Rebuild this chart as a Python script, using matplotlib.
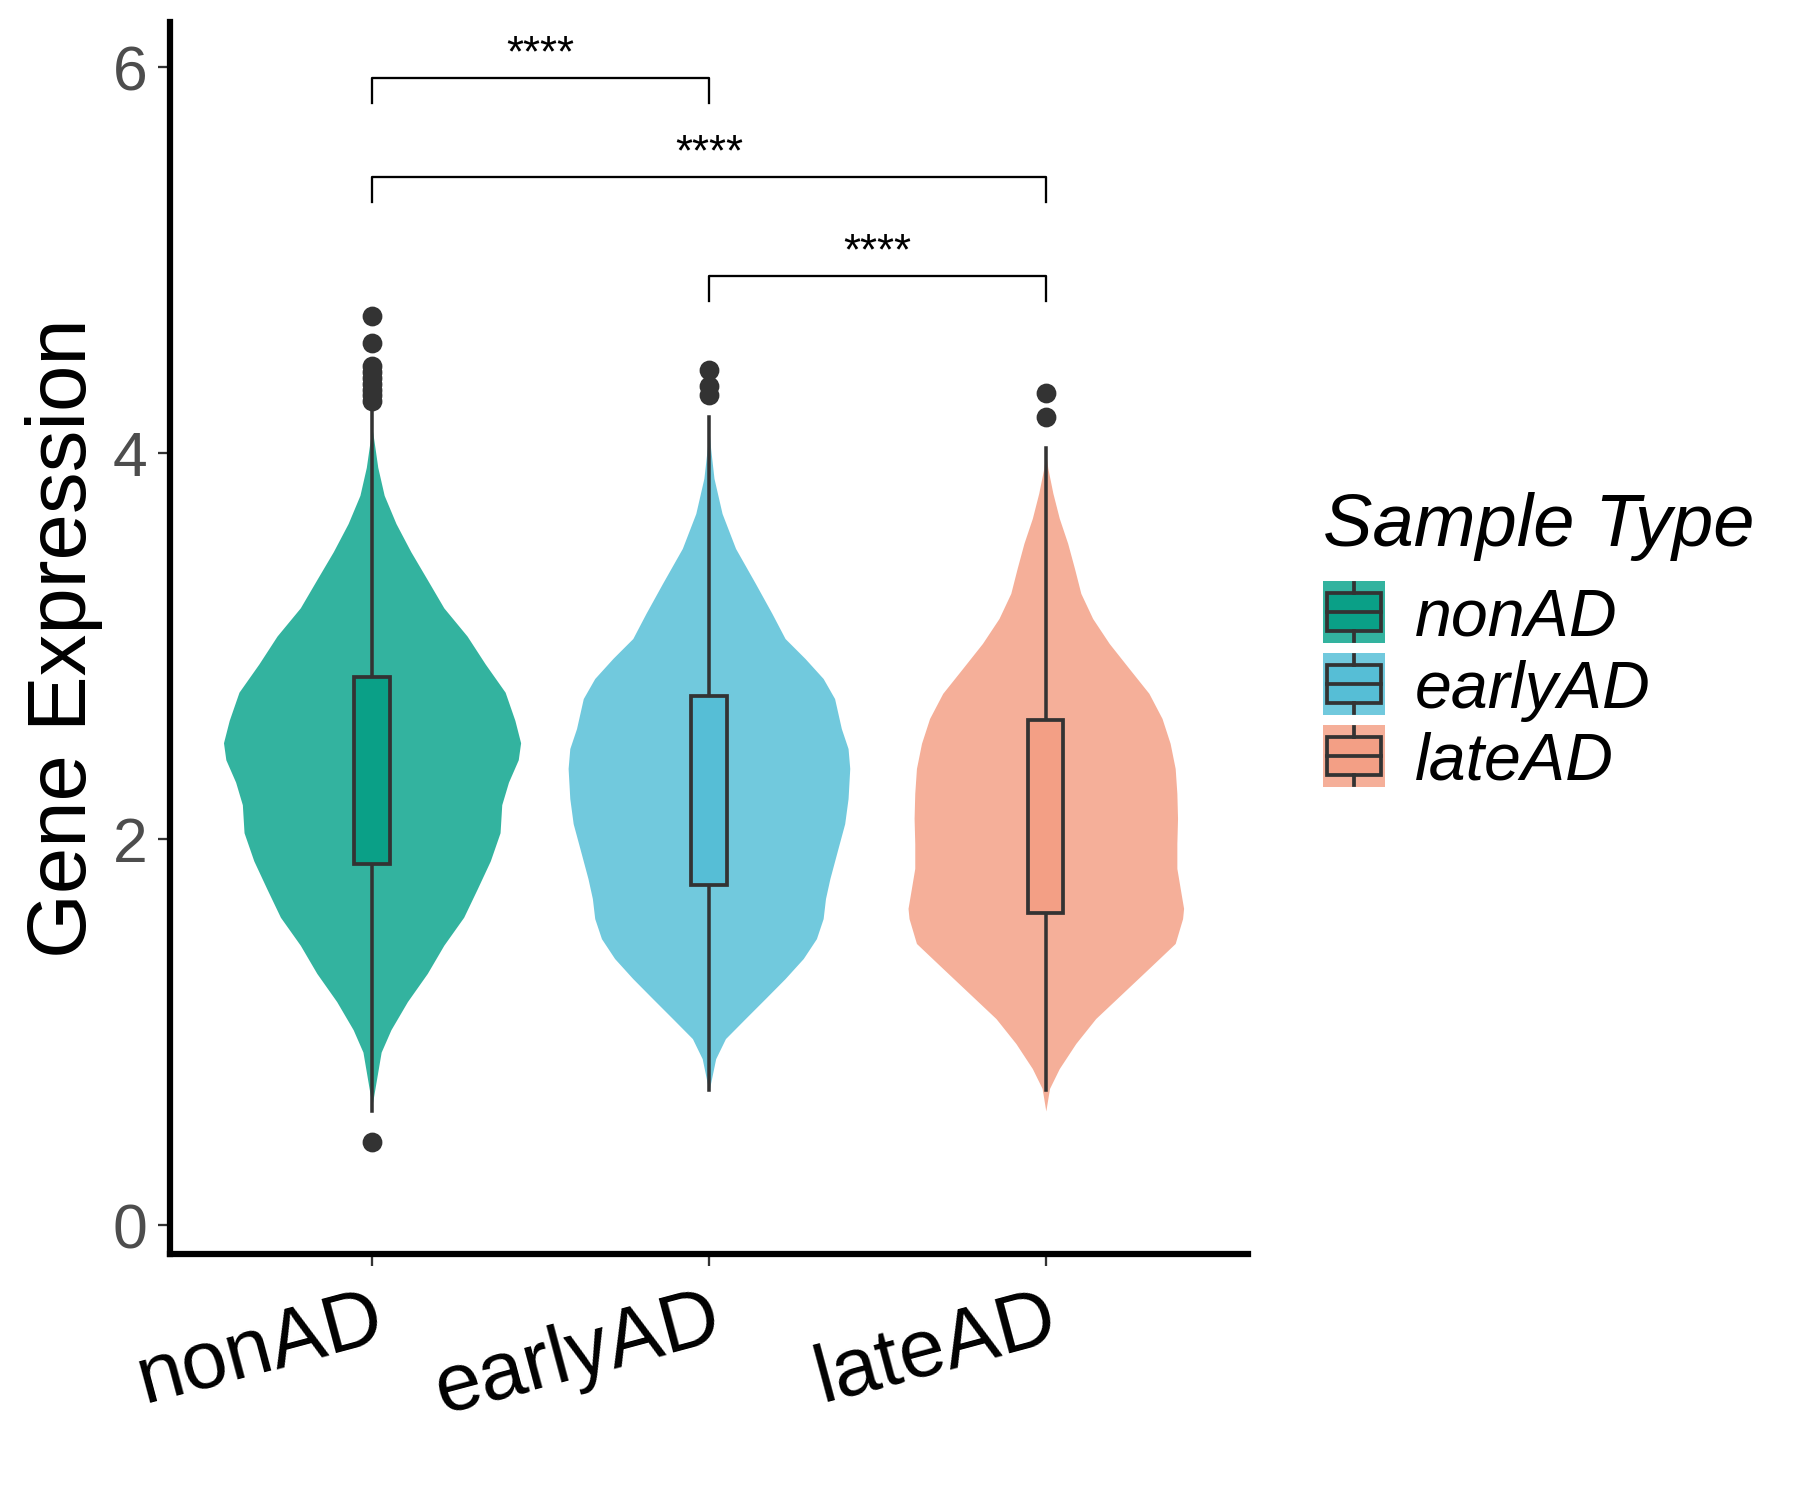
import matplotlib
matplotlib.use("Agg")
import matplotlib.pyplot as plt
from matplotlib.patches import Rectangle
from matplotlib.lines import Line2D

plt.rcParams["font.family"] = ["Liberation Sans", "DejaVu Sans"]

groups = ["nonAD", "earlyAD", "lateAD"]
violin_fill = ["#33B39F", "#71C9DD", "#F5AF99"]
box_fill = ["#0AA087", "#56BED6", "#F39F85"]
dark = "#333333"

# violin outlines: value and half width (in x units)
nonad_y = [0.62, 0.897, 1.013, 1.159, 1.305, 1.451, 1.596, 1.742, 1.888, 2.034,
           2.179, 2.296, 2.412, 2.500, 2.616, 2.762, 2.908, 3.053, 3.199, 3.345,
           3.490, 3.636, 3.782, 3.927, 4.073, 4.131]
nonad_w = [0.0, 0.027, 0.056, 0.105, 0.164, 0.213, 0.272, 0.312, 0.351, 0.380,
           0.385, 0.405, 0.434, 0.441, 0.424, 0.395, 0.336, 0.282, 0.213, 0.164,
           0.115, 0.071, 0.036, 0.017, 0.005, 0.0]
early_y = [0.695, 0.863, 0.967, 1.071, 1.174, 1.278, 1.382, 1.485, 1.589, 1.693,
           1.796, 1.952, 2.081, 2.211, 2.367, 2.470, 2.574, 2.729, 2.833, 2.937,
           3.040, 3.170, 3.325, 3.507, 3.688, 3.870, 4.025, 4.129]
early_w = [0.0, 0.020, 0.049, 0.108, 0.167, 0.226, 0.280, 0.319, 0.339, 0.346,
           0.359, 0.383, 0.403, 0.413, 0.418, 0.413, 0.393, 0.373, 0.339, 0.285,
           0.226, 0.187, 0.138, 0.079, 0.039, 0.015, 0.005, 0.0]
late_y = [0.592, 0.709, 0.812, 0.942, 1.071, 1.201, 1.331, 1.460, 1.589, 1.642,
          1.745, 1.849, 1.978, 2.108, 2.238, 2.367, 2.497, 2.626, 2.756, 2.885,
          3.015, 3.144, 3.274, 3.404, 3.533, 3.663, 3.793, 3.922, 4.0]
late_w = [0.0, 0.011, 0.040, 0.089, 0.148, 0.227, 0.306, 0.384, 0.406, 0.409,
          0.399, 0.389, 0.389, 0.391, 0.389, 0.384, 0.369, 0.345, 0.306, 0.247,
          0.188, 0.139, 0.104, 0.085, 0.065, 0.040, 0.021, 0.006, 0.0]

# box summaries
whis_lo = [0.59, 0.70, 0.70]
q1 = [1.873, 1.762, 1.616]
med = [2.383, 2.268, 2.108]
q3 = [2.84, 2.744, 2.618]
whis_hi = [4.233, 4.186, 4.026]
nonad_out = [0.43, 4.27, 4.30, 4.33, 4.36, 4.39, 4.42, 4.45, 4.57, 4.71]
early_out = [4.30, 4.35, 4.43]
late_out = [4.19, 4.31]

# stat_compare_means brackets
pairs = [(1, 2), (1, 3), (2, 3)]
bracket_y = [5.944, 5.43, 4.92]
p_labels = ["****", "****", "****"]

violins = [(nonad_y, nonad_w), (early_y, early_w), (late_y, late_w)]
outliers = [nonad_out, early_out, late_out]

fig = plt.figure(figsize=(12, 10), dpi=150)
ax = fig.add_axes([0.0944, 0.164, 0.5989, 0.821])

for i, (vy, vw) in enumerate(violins):
    xc = i + 1
    ax.fill_betweenx(vy, [xc - w for w in vw], [xc + w for w in vw],
                     color=violin_fill[i], lw=0, zorder=1)

stats = []
for i in range(3):
    stats.append(dict(whislo=whis_lo[i], q1=q1[i], med=med[i], q3=q3[i],
                      whishi=whis_hi[i], fliers=outliers[i]))
bp = ax.bxp(stats, positions=[1, 2, 3], widths=0.105, patch_artist=True,
            showcaps=False,
            boxprops=dict(edgecolor=dark, linewidth=1.8),
            whiskerprops=dict(color=dark, linewidth=1.7),
            medianprops=dict(color=dark, linewidth=3.4, solid_capstyle="butt"),
            flierprops=dict(marker="o", markerfacecolor=dark,
                            markeredgecolor=dark, markersize=8.5))
for patch, c in zip(bp["boxes"], box_fill):
    patch.set_facecolor(c)
    patch.set_zorder(3)

tip = 0.13
for (a, b), by, lab in zip(pairs, bracket_y, p_labels):
    ax.plot([a, a, b, b], [by - tip, by, by, by - tip], color="black", lw=1.1)
    ax.text((a + b) / 2, by + 0.06, lab, ha="center", va="baseline", fontsize=21)

ax.set_xlim(0.4, 3.6)
ax.set_ylim(-0.149, 6.232)
ax.set_yticks([0, 2, 4, 6])
ax.set_xticks([1, 2, 3])
ax.set_xticklabels(groups, rotation=15, ha="right", va="top", rotation_mode="anchor")
ax.tick_params(axis="y", length=5.8, width=1.1, color=dark, labelsize=30,
               labelcolor="#4D4D4D", pad=5)
ax.tick_params(axis="x", length=5.8, width=1.1, color=dark, labelsize=39.5,
               labelcolor="black", pad=7)
for s in ["top", "right"]:
    ax.spines[s].set_visible(False)
for s in ["left", "bottom"]:
    ax.spines[s].set_linewidth(3.0)
    ax.spines[s].set_color("black")
    ax.spines[s].set_capstyle("projecting")

ax.text(-0.078, 0.5, "Gene Expression", transform=ax.transAxes, rotation=90,
        rotation_mode="anchor", ha="center", va="baseline", fontsize=40)


# legend drawn by hand, in pixel positions of the 1800x1500 canvas
def px(x, y):
    return x / 1800, 1 - y / 1500


key_size = 62
key_tops = [581, 653, 725]
key_left = 1323
tx, ty = px(key_left, 546)
fig.text(tx, ty, "Sample Type", fontsize=35.6, style="italic", va="baseline")
for i, top in enumerate(key_tops):
    x0, y0 = px(key_left, top + key_size)
    w, h = key_size / 1800, key_size / 1500
    fig.add_artist(Rectangle((x0, y0), w, h, transform=fig.transFigure,
                             facecolor=violin_fill[i], lw=0))
    fig.add_artist(Rectangle((x0 + 0.06 * w, y0 + 0.19 * h), 0.88 * w, 0.62 * h,
                             transform=fig.transFigure, facecolor=box_fill[i],
                             edgecolor=dark, lw=1.8))
    xm = x0 + w / 2
    fig.add_artist(Line2D([x0 + 0.06 * w, x0 + 0.94 * w], [y0 + h / 2] * 2,
                          transform=fig.transFigure, color=dark, lw=1.8))
    fig.add_artist(Line2D([xm, xm], [y0 + 0.03 * h, y0 + 0.19 * h],
                          transform=fig.transFigure, color=dark, lw=1.8))
    fig.add_artist(Line2D([xm, xm], [y0 + 0.81 * h, y0 + 0.97 * h],
                          transform=fig.transFigure, color=dark, lw=1.8))
    lx, ly = px(1415, top + key_size / 2 + 23.5)
    fig.text(lx, ly, groups[i], fontsize=31.8, style="italic", va="baseline")

fig.savefig("out.png", dpi=150)
